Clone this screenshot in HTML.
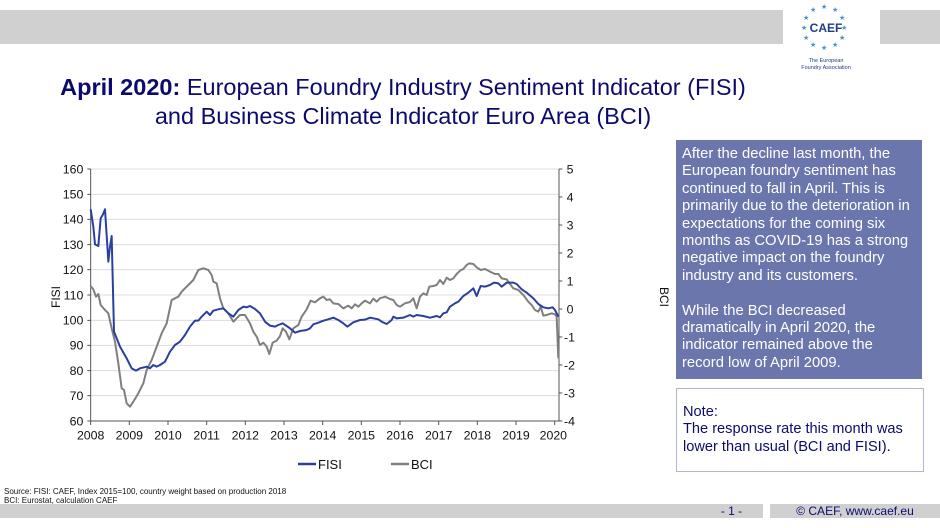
<!DOCTYPE html>
<html><head><meta charset="utf-8"><style>
body{margin:0;width:940px;height:528px;background:#fff;position:relative;overflow:hidden;font-family:"Liberation Sans",Arial,sans-serif}
.abs{position:absolute}
</style></head><body>
<div class="abs" style="left:0;top:10px;width:783px;height:34px;background:#d0d0d0"></div>
<div class="abs" style="left:880px;top:10px;width:60px;height:34px;background:#d0d0d0"></div>
<svg class="abs" style="left:790px;top:0" width="80" height="80">
<g fill="#4a90d0" font-size="7">
<text x="20" y="12">★</text><text x="31" y="9">★</text><text x="42" y="12">★</text>
<text x="49" y="20">★</text><text x="51" y="30">★</text><text x="49" y="40">★</text>
<text x="42" y="47">★</text><text x="31" y="50">★</text><text x="20" y="47">★</text>
<text x="13" y="40">★</text><text x="11" y="30">★</text><text x="13" y="20">★</text>
</g>
<text x="36" y="32" text-anchor="middle" font-weight="bold" font-size="12" fill="#1f3b8a">CAEF</text>
<text x="36" y="62" text-anchor="middle" font-size="5.5" fill="#1f3b8a">The European</text>
<text x="36" y="69" text-anchor="middle" font-size="5.5" fill="#1f3b8a">Foundry Association</text>
</svg>
<div class="abs" style="left:0;top:73px;width:806px;text-align:center;color:#0b0b6e;font-size:23.5px;line-height:29px"><b>April 2020:</b> European Foundry Industry Sentiment Indicator (FISI)<br>and Business Climate Indicator Euro Area (BCI)</div>

<svg class="abs" style="left:0;top:0" width="670" height="480">
<g transform="translate(60,150) scale(0.33333)">
<g stroke="#dcdcdc" stroke-width="3">
<line x1="92" x2="1497" y1="57" y2="57"/><line x1="92" x2="1497" y1="133" y2="133"/><line x1="92" x2="1497" y1="208" y2="208"/><line x1="92" x2="1497" y1="284" y2="284"/><line x1="92" x2="1497" y1="359" y2="359"/><line x1="92" x2="1497" y1="435" y2="435"/><line x1="92" x2="1497" y1="511" y2="511"/><line x1="92" x2="1497" y1="586" y2="586"/><line x1="92" x2="1497" y1="662" y2="662"/><line x1="92" x2="1497" y1="737" y2="737"/>
</g>
<g stroke="#555" stroke-width="3" fill="none">
<line x1="92" y1="57" x2="92" y2="813"/><line x1="1497" y1="57" x2="1497" y2="813"/><line x1="92" y1="813" x2="1497" y2="813"/>
<path d="M82 57h10M82 133h10M82 208h10M82 284h10M82 359h10M82 435h10M82 511h10M82 586h10M82 662h10M82 737h10M82 813h10"/>
<path d="M1497 57h10M1497 141h10M1497 225h10M1497 309h10M1497 393h10M1497 477h10M1497 561h10M1497 645h10M1497 729h10M1497 813h10"/>
<path d="M92 813v12M208 813v12M324 813v12M440 813v12M556 813v12M672 813v12M788 813v12M904 813v12M1020 813v12M1136 813v12M1252 813v12M1368 813v12M1484 813v12"/>
</g>
<g font-size="37" fill="#111" text-anchor="end">
<text x="70" y="70">160</text><text x="70" y="146">150</text><text x="70" y="221">140</text><text x="70" y="297">130</text><text x="70" y="372">120</text><text x="70" y="448">110</text><text x="70" y="524">100</text><text x="70" y="599">90</text><text x="70" y="675">80</text><text x="70" y="750">70</text><text x="70" y="826">60</text>
</g>
<g font-size="37" fill="#111" text-anchor="start">
<text x="1520" y="70">5</text><text x="1520" y="154">4</text><text x="1520" y="238">3</text><text x="1520" y="322">2</text><text x="1520" y="406">1</text><text x="1520" y="490">0</text><text x="1512" y="574">-1</text><text x="1512" y="658">-2</text><text x="1512" y="742">-3</text><text x="1512" y="826">-4</text>
</g>
<g font-size="37" fill="#111" text-anchor="middle">
<text x="92" y="868">2008</text><text x="208" y="868">2009</text><text x="324" y="868">2010</text><text x="440" y="868">2011</text><text x="556" y="868">2012</text><text x="672" y="868">2013</text><text x="788" y="868">2014</text><text x="904" y="868">2015</text><text x="1020" y="868">2016</text><text x="1136" y="868">2017</text><text x="1252" y="868">2018</text><text x="1368" y="868">2019</text><text x="1480" y="868">2020</text>
</g>
<polyline fill="none" stroke="#7f7f7f" stroke-width="6" stroke-linejoin="round" points="92,408 100,418 108,440 115,432 122,465 135,480 145,490 155,535 165,575 175,640 185,715 192,720 200,760 210,770 220,755 235,730 250,700 260,660 275,630 290,590 305,550 320,520 335,450 345,445 355,440 365,425 375,415 385,405 400,390 415,360 430,355 445,360 455,375 460,395 470,400 480,445 490,475 505,490 520,515 540,495 555,495 570,520 580,545 590,560 600,585 610,578 620,590 628,612 638,578 650,572 660,558 668,535 678,545 688,568 700,535 715,525 725,500 740,478 752,452 765,457 780,445 790,440 800,450 810,448 820,460 835,462 850,475 865,467 875,475 885,463 895,470 905,460 915,452 930,460 940,446 950,455 960,445 975,440 990,447 1000,450 1010,465 1020,470 1035,460 1050,456 1060,445 1070,475 1080,440 1090,430 1100,435 1108,410 1120,408 1130,405 1140,390 1150,402 1160,383 1170,390 1180,385 1190,372 1200,362 1210,357 1220,345 1228,340 1240,342 1250,352 1262,360 1275,357 1290,365 1305,372 1315,372 1325,385 1340,388 1350,402 1360,415 1375,420 1390,435 1405,455 1415,465 1425,480 1435,485 1442,470 1450,497 1460,495 1475,490 1485,493 1490,500 1495,625"/>
<polyline fill="none" stroke="#2b3f9e" stroke-width="6" stroke-linejoin="round" points="92,178 100,230 105,283 115,288 122,205 128,195 135,178 145,335 150,290 155,258 162,545 180,590 200,625 215,655 228,662 240,655 260,650 270,655 280,645 290,650 300,645 315,635 330,605 345,585 360,575 375,555 390,530 405,512 415,512 425,500 440,485 450,495 460,482 475,478 490,475 505,490 520,500 535,480 550,470 560,472 570,468 585,477 600,490 615,515 630,527 645,530 655,525 668,520 680,528 690,535 705,548 720,543 740,540 750,535 760,523 775,518 790,512 805,508 820,503 835,510 850,520 862,530 880,517 900,510 915,509 930,503 940,505 955,508 965,515 980,522 995,510 1000,500 1010,505 1030,503 1050,495 1060,500 1070,495 1090,498 1110,503 1130,498 1140,502 1150,490 1160,487 1170,470 1185,460 1195,455 1210,438 1225,428 1240,415 1250,438 1262,408 1275,410 1290,405 1302,398 1315,400 1325,410 1340,398 1360,398 1370,402 1385,418 1400,428 1420,445 1435,462 1450,472 1465,475 1478,472 1485,480 1495,500"/>
</g>
<text x="0" y="0" font-size="12" fill="#111" transform="translate(60,297) rotate(-90)" text-anchor="middle">FISI</text>
<text x="0" y="0" font-size="12" fill="#111" transform="translate(660,297) rotate(90)" text-anchor="middle">BCI</text>
<line x1="298" y1="464" x2="316" y2="464" stroke="#2b3f9e" stroke-width="2.5"/>
<text x="318" y="469" font-size="13" fill="#111">FISI</text>
<line x1="391" y1="464" x2="409" y2="464" stroke="#7f7f7f" stroke-width="2.5"/>
<text x="411" y="469" font-size="13" fill="#111">BCI</text>
</svg>

<div class="abs" style="left:676px;top:140px;width:232px;height:229px;padding:6px 8px 4px 6px;background:#6b76ad;color:#fff;font-size:14.8px;line-height:17.4px;white-space:nowrap;overflow:hidden">After the decline last month, the<br>European foundry sentiment has<br>continued to fall in April. This is<br>primarily due to the deterioration in<br>expectations for the coming six<br>months as COVID-19 has a strong<br>negative impact on the foundry<br>industry and its customers.<br><br>While the BCI decreased<br>dramatically in April 2020, the<br>indicator remained above the<br>record low of April 2009.</div>
<div class="abs" style="left:676px;top:388px;width:236px;height:67px;padding:15px 4px 0 6px;border:1px solid #b0b6d8;color:#0b0b6e;font-size:14.6px;line-height:17.4px">Note:<br>The response rate this month was lower than usual (BCI and FISI).</div>

<div class="abs" style="left:4px;top:487px;font-size:8px;line-height:9px;color:#111">Source: FISI: CAEF, Index 2015=100, country weight based on production 2018<br>BCI: Eurostat, calculation CAEF</div>
<div class="abs" style="left:0;top:504px;width:763px;height:14px;background:#d0d0d0"></div>
<div class="abs" style="left:700px;top:504px;width:63px;height:14px;font-size:12px;line-height:14px;text-align:center;color:#0b0b6e">- 1 -</div>
<div class="abs" style="left:770px;top:504px;width:170px;height:14px;background:#d0d0d0;font-size:12px;line-height:14px;text-align:center;color:#0b0b6e">© CAEF, www.caef.eu</div>
</body></html>
